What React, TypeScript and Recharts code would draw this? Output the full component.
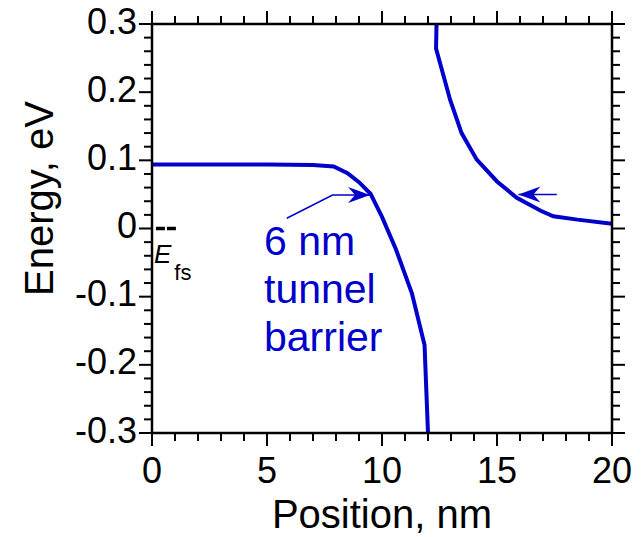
import React from 'react';
import { ComposedChart, Line, XAxis, YAxis, ReferenceDot, Label } from 'recharts';

const FONT = '"Liberation Sans", Arial, Helvetica, sans-serif';
const BLUE = '#0000cc';

// conduction band edge left of the barrier (nm, eV)
const leftPos = [0, 2, 5, 7, 7.9, 8.5, 9, 9.5, 10, 10.6, 11.3, 11.85, 12.0];
const leftEnergy = [0.094, 0.094, 0.094, 0.093, 0.091, 0.081, 0.068, 0.051, 0.017, -0.03, -0.095, -0.171, -0.3];

// conduction band edge right of the barrier
const rightPos = [12.37, 12.35, 12.96, 13.46, 14.12, 15.0, 15.86, 16.9, 17.45, 18.5, 20];
const rightEnergy = [0.3, 0.264, 0.189, 0.14, 0.101, 0.069, 0.045, 0.026, 0.018, 0.013, 0.007];

// Fermi level marker
const efsPos = [0.17, 1.04];
const efsEnergy = [0, 0];

// annotation arrows (tip is the last point)
const arrowAPos = [5.86, 7.85, 9.48];
const arrowAEnergy = [0.015, 0.049, 0.049];
const arrowBPos = [17.6, 15.93];
const arrowBEnergy = [0.05, 0.05];

const barrierLines = ['6 nm', 'tunnel', 'barrier'];
const barrierAt = { x: 4.87, y: -0.039 };
const efsAt = { x: 0.087, y: -0.0506 };

const xTicks = Array.from({ length: 21 }, (_, i) => i);
const yTicks = Array.from({ length: 31 }, (_, i) => Math.round((-0.3 + i * 0.02) * 100) / 100);

const toPoints = (xs: number[], ys: number[]) => xs.map((x, i) => ({ x, y: ys[i] }));

const isMajorX = (v: number) => v % 5 === 0;
const isMajorY = (v: number) => Math.abs(v * 10 - Math.round(v * 10)) < 1e-6;
const fmtY = (v: number) => String(Math.round(v * 10) / 10);

const MAJOR = 13;
const MINOR = 8;
const TICK_W = 2;

const BottomTick = ({ x, y, payload }: any) => {
  const major = isMajorX(payload.value);
  return (
    <g>
      <line x1={x} x2={x} y1={y} y2={y + (major ? MAJOR : MINOR)} stroke="#000" strokeWidth={TICK_W} />
      {major && (
        <text x={x} y={y + 50} textAnchor="middle" fontSize={36} fontFamily={FONT} fill="#000">
          {payload.value}
        </text>
      )}
    </g>
  );
};

const TopTick = ({ x, y, payload }: any) => {
  const major = isMajorX(payload.value);
  return <line x1={x} x2={x} y1={y} y2={y - (major ? MAJOR : MINOR)} stroke="#000" strokeWidth={TICK_W} />;
};

const LeftTick = ({ x, y, payload }: any) => {
  const major = isMajorY(payload.value);
  return (
    <g>
      <line x1={x} x2={x - (major ? MAJOR : MINOR)} y1={y} y2={y} stroke="#000" strokeWidth={TICK_W} />
      {major && (
        <text x={x - 15} y={y + 9.5} textAnchor="end" fontSize={36} fontFamily={FONT} fill="#000">
          {fmtY(payload.value)}
        </text>
      )}
    </g>
  );
};

const RightTick = ({ x, y, payload }: any) => {
  const major = isMajorY(payload.value);
  return <line x1={x} x2={x + (major ? MAJOR : MINOR)} y1={y} y2={y} stroke="#000" strokeWidth={TICK_W} />;
};

const arrowDot = (dir: number, last: number) => (props: any) => {
  const { cx, cy, index } = props;
  if (index !== last) return <g key={index} />;
  const pts = [
    [cx, cy],
    [cx - dir * 22, cy - 8],
    [cx - dir * 15, cy],
    [cx - dir * 22, cy + 8],
  ]
    .map((p) => p.join(','))
    .join(' ');
  return <polygon key={index} points={pts} fill={BLUE} />;
};

const BarrierText = ({ cx, cy }: any) => (
  <text x={cx} y={cy} fontSize={41} fontFamily={FONT} fill={BLUE}>
    {barrierLines.map((s, i) => (
      <tspan key={s} x={cx} dy={i === 0 ? 0 : 48}>
        {s}
      </tspan>
    ))}
  </text>
);

const EfsText = ({ cx, cy }: any) => (
  <text x={cx} y={cy} fontFamily={FONT} fill="#000">
    <tspan fontSize={26} fontStyle="italic">E</tspan>
    <tspan fontSize={22} dx={3} dy={17}>fs</tspan>
  </text>
);

const yTitle = (props: any) => {
  const vb = props.viewBox;
  const cx = vb.x + 53;
  const cy = vb.y + vb.height / 2 - 30;
  return (
    <text x={cx} y={cy} transform={`rotate(-90, ${cx}, ${cy})`} textAnchor="middle" fontSize={40} fontFamily={FONT} fill="#000">
      Energy, eV
    </text>
  );
};

const xTitle = (props: any) => {
  const vb = props.viewBox;
  return (
    <text x={vb.x + vb.width / 2} y={vb.y + 95} textAnchor="middle" fontSize={40} fontFamily={FONT} fill="#000">
      Position, nm
    </text>
  );
};

export default function App() {
  const axisLine = { stroke: '#000', strokeWidth: 2.5 };
  return (
    <div style={{ position: 'absolute', left: 0, top: 0, background: '#fff' }}>
      <ComposedChart width={642} height={537} margin={{ top: 0, right: 0, bottom: 0, left: 0 }}>
        <XAxis
          xAxisId="b"
          type="number"
          dataKey="x"
          domain={[0, 20]}
          ticks={xTicks}
          interval={0}
          height={104}
          tickSize={0}
          tickMargin={0}
          tickLine={false}
          axisLine={axisLine}
          tick={<BottomTick />}
          allowDataOverflow
        >
          <Label content={xTitle} />
        </XAxis>
        <XAxis
          xAxisId="t"
          orientation="top"
          type="number"
          dataKey="x"
          domain={[0, 20]}
          ticks={xTicks}
          interval={0}
          height={24}
          tickSize={0}
          tickMargin={0}
          tickLine={false}
          axisLine={axisLine}
          tick={<TopTick />}
          allowDataOverflow
        />
        <YAxis
          yAxisId="l"
          type="number"
          domain={[-0.3, 0.3]}
          ticks={yTicks}
          interval={0}
          width={152}
          tickSize={0}
          tickMargin={0}
          tickLine={false}
          axisLine={axisLine}
          tick={<LeftTick />}
          allowDataOverflow
        >
          <Label content={yTitle} />
        </YAxis>
        <YAxis
          yAxisId="r"
          orientation="right"
          type="number"
          domain={[-0.3, 0.3]}
          ticks={yTicks}
          interval={0}
          width={30}
          tickSize={0}
          tickMargin={0}
          tickLine={false}
          axisLine={axisLine}
          tick={<RightTick />}
          allowDataOverflow
        />

        <Line
          xAxisId="b"
          yAxisId="l"
          data={toPoints(leftPos, leftEnergy)}
          dataKey="y"
          type="linear"
          stroke={BLUE}
          strokeWidth={4}
          dot={false}
          activeDot={false}
          isAnimationActive={false}
        />
        <Line
          xAxisId="b"
          yAxisId="l"
          data={toPoints(rightPos, rightEnergy)}
          dataKey="y"
          type="linear"
          stroke={BLUE}
          strokeWidth={4}
          dot={false}
          activeDot={false}
          isAnimationActive={false}
        />
        <Line
          xAxisId="b"
          yAxisId="l"
          data={toPoints(efsPos, efsEnergy)}
          dataKey="y"
          type="linear"
          stroke="#000"
          strokeWidth={3.5}
          strokeDasharray="9 2"
          dot={false}
          activeDot={false}
          isAnimationActive={false}
        />
        <Line
          xAxisId="b"
          yAxisId="l"
          data={toPoints(arrowAPos, arrowAEnergy)}
          dataKey="y"
          type="linear"
          stroke={BLUE}
          strokeWidth={1.5}
          dot={arrowDot(1, arrowAPos.length - 1)}
          activeDot={false}
          isAnimationActive={false}
        />
        <Line
          xAxisId="b"
          yAxisId="l"
          data={toPoints(arrowBPos, arrowBEnergy)}
          dataKey="y"
          type="linear"
          stroke={BLUE}
          strokeWidth={1.5}
          dot={arrowDot(-1, arrowBPos.length - 1)}
          activeDot={false}
          isAnimationActive={false}
        />

        <ReferenceDot xAxisId="b" yAxisId="l" x={barrierAt.x} y={barrierAt.y} r={0} shape={(p: any) => <BarrierText cx={p.cx} cy={p.cy} />} />
        <ReferenceDot xAxisId="b" yAxisId="l" x={efsAt.x} y={efsAt.y} r={0} shape={(p: any) => <EfsText cx={p.cx} cy={p.cy} />} />
      </ComposedChart>
    </div>
  );
}
